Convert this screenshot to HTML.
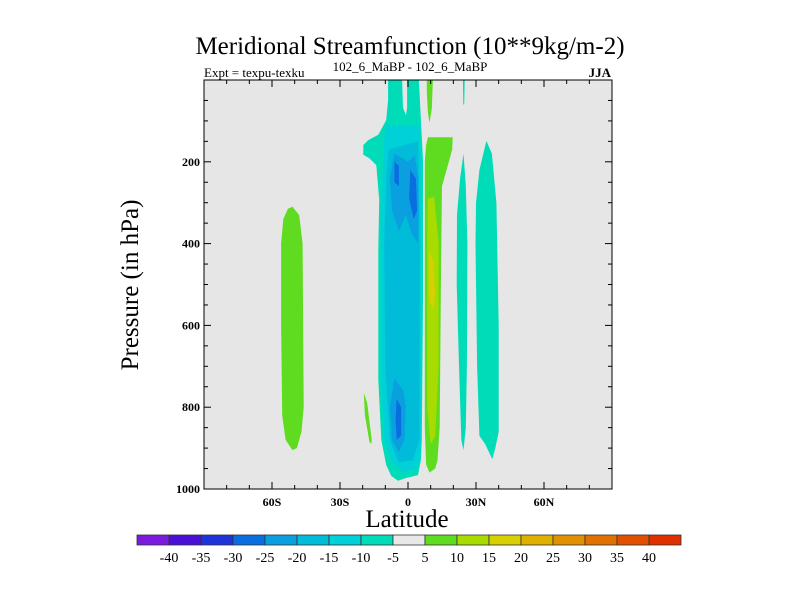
<!DOCTYPE html>
<html><head><meta charset="utf-8"><style>
body{margin:0;background:#fff;}
svg{display:block;font-family:"Liberation Serif",serif;}
</style></head><body>
<svg id="chart" width="800" height="600" viewBox="0 0 800 600">
<text x="410" y="54" font-size="25" text-anchor="middle">Meridional Streamfunction (10**9kg/m-2)</text>
<text x="204" y="77" font-size="13">Expt = texpu-texku</text>
<text x="410" y="71" font-size="13" text-anchor="middle">102_6_MaBP - 102_6_MaBP</text>
<text x="611" y="77" font-size="13" text-anchor="end" font-weight="bold">JJA</text>
<rect x="204" y="80" width="408" height="409" fill="#e6e6e6"/>
<g id="fills"></g>
<g id="axes"></g>
<text x="407" y="527" font-size="25" text-anchor="middle">Latitude</text>
<text transform="translate(138,285) rotate(-90)" font-size="25" text-anchor="middle">Pressure (in hPa)</text>
<g id="cbar"></g>
</svg>
<script>
const xTickLats=[-60,-30,0,30,60];
const xTickLabels=["60S","30S","0","30N","60N"];
const yTickVals=[200,400,600,800,1000];
const cbarLevels=[-40,-35,-30,-25,-20,-15,-10,-5,5,10,15,20,25,30,35,40];
const cbarColors=["#7d1ae0","#4a10d8","#1e34d8","#0a6ee0","#0aa0e0","#00bcd8","#00d0d8","#00dcb8","#e8e8e8","#60dc20","#a8dc00","#d8d000","#e0b000","#e09000","#e07000","#e05000","#e03000"];
// contour polygons: [level-color-index, [[lat, pressure],...]]
const contourLevelIdx=[7,6,5,4,4,3,3,3,9,9,10,11,7,7,7];
const contourShapes=[
[[-8.8,0],[-2.6,0],[-2.2,68],[-0.9,86],[-0.4,68],[-0.4,0],[4.8,0],[5.7,98],[6.6,196],[6.6,538],[6.1,880],[5.7,929],[4.4,966],[-0.9,973],[-4.4,980],[-7.4,968],[-9.6,941],[-11.8,880],[-13.1,733],[-13.1,416],[-12.7,293],[-14,208],[-17.1,191],[-19.7,183],[-19.7,159],[-17.5,147],[-13.1,134],[-9.6,98],[-8.8,49]],
[[-10,110],[5,110],[5.7,200],[5.7,900],[4,950],[-2,960],[-7,935],[-10.5,880],[-12,700],[-12,350],[-11,200]],
[[-8.5,170],[4.5,150],[5.2,400],[5,880],[2,930],[-4,935],[-8,880],[-10,700],[-10.5,400],[-9.5,230]],
[[-6,180],[0,200],[3,185],[4.6,240],[4.6,400],[2,380],[-1,330],[-4,370],[-7,320],[-8,240]],
[[-6,730],[-2,760],[-1,800],[-1.5,880],[-4,910],[-7,880],[-8,800]],
[[1,220],[3.5,240],[4,320],[2.5,340],[0.5,290]],
[[-6,200],[-4,210],[-4,260],[-6,250]],
[[-5,780],[-3,800],[-3,870],[-5,880],[-5.5,830]],
[[8.8,140],[19.7,140],[19.5,170],[17.5,210],[15,260],[14.5,500],[14,850],[13,930],[12,950],[9.5,960],[8,940],[7.4,850],[7.4,200],[8,160]],
[[8.3,0],[11,0],[10.5,70],[9.5,105],[8.8,80],[8.3,30]],
[[8.8,290],[11.5,285],[13.5,400],[13.5,700],[12,870],[10,890],[8.5,800],[8.5,400]],
[[9.2,420],[11,440],[12,520],[11,560],[9.5,540]],
[[24.5,180],[25.5,260],[26.2,400],[26,700],[25.5,850],[24.5,905],[23.5,880],[22.5,700],[21.5,500],[21.6,330],[23,240]],
[[34.6,149],[37,180],[39,300],[40,600],[40,860],[38.5,900],[37.2,927],[34,890],[31.5,870],[30.5,700],[29.8,400],[30,300],[31.5,220]],
[[24.2,0],[25,0],[24.8,60],[24.4,60]]
];
const leftBlob=[[-51,310],[-48,330],[-46.5,400],[-46,800],[-47,860],[-49,900],[-51,905],[-54,880],[-55.5,820],[-56,600],[-56,400],[-55,340],[-53,315]];
const sliver=[[-19.5,765],[-18,790],[-16,880],[-16.2,890],[-17,885],[-19,820]];

const NS="http://www.w3.org/2000/svg";
const X0=204,X1=612,Y0=80,Y1=489;
function xs(lat){return X0+(lat+90)/180*(X1-X0);}
function ys(p){return Y0+p/1000*(Y1-Y0);}
function mk(tag,attrs,parent){const e=document.createElementNS(NS,tag);for(const k in attrs)e.setAttribute(k,attrs[k]);parent.appendChild(e);return e;}
const fills=document.getElementById('fills');
function poly(pts,color,name){
  const e=mk('polygon',{points:pts.map(q=>xs(q[0]).toFixed(1)+','+ys(q[1]).toFixed(1)).join(' '),fill:color},fills);
  
  
}
poly(leftBlob,cbarColors[9],'contour-southern-positive');
poly(sliver,cbarColors[9],'contour-sliver');
contourShapes.forEach((s,i)=>poly(s,cbarColors[contourLevelIdx[i]],'contour-region'));

const ax=document.getElementById('axes');
const fr=mk('rect',{x:X0,y:Y0,width:X1-X0,height:Y1-Y0,fill:'none',stroke:'#000','stroke-width':1},ax);


for(let lat=-80;lat<=80;lat+=10){
  const major=lat%30===0, L=major?7:4, x=xs(lat);
  mk('line',{x1:x,y1:Y1,x2:x,y2:Y1-L,stroke:'#000'},ax);
  mk('line',{x1:x,y1:Y0,x2:x,y2:Y0+L,stroke:'#000'},ax);
}
for(let p=50;p<1000;p+=50){
  const major=p%200===0, L=major?7:4, y=ys(p);
  mk('line',{x1:X0,y1:y,x2:X0+L,y2:y,stroke:'#000'},ax);
  mk('line',{x1:X1,y1:y,x2:X1-L,y2:y,stroke:'#000'},ax);
}
xTickLats.forEach((lat,i)=>{
  const t=mk('text',{x:xs(lat),y:Y1+17,'font-size':12,'font-weight':'bold','text-anchor':'middle'},ax);
  t.textContent=xTickLabels[i];
  
  
});
yTickVals.forEach(v=>{
  const t=mk('text',{x:X0-4,y:ys(v)+4,'font-size':12,'font-weight':'bold','text-anchor':'end'},ax);
  t.textContent=v;
  
  
});
const cb=document.getElementById('cbar');
const CB0=137,CB1=681,CBY=535,CBH=10,bw=(CB1-CB0)/cbarColors.length;
cbarColors.forEach((c,i)=>{
  const r=mk('rect',{x:CB0+i*bw,y:CBY,width:bw,height:CBH,fill:c,stroke:'#333','stroke-width':0.8},cb);
  
  
});
cbarLevels.forEach((v,i)=>{
  const t=mk('text',{x:CB0+(i+1)*bw,y:CBY+27,'font-size':14,'text-anchor':'middle'},cb);
  t.textContent=v;
  
  
});
</script>
</body></html>
